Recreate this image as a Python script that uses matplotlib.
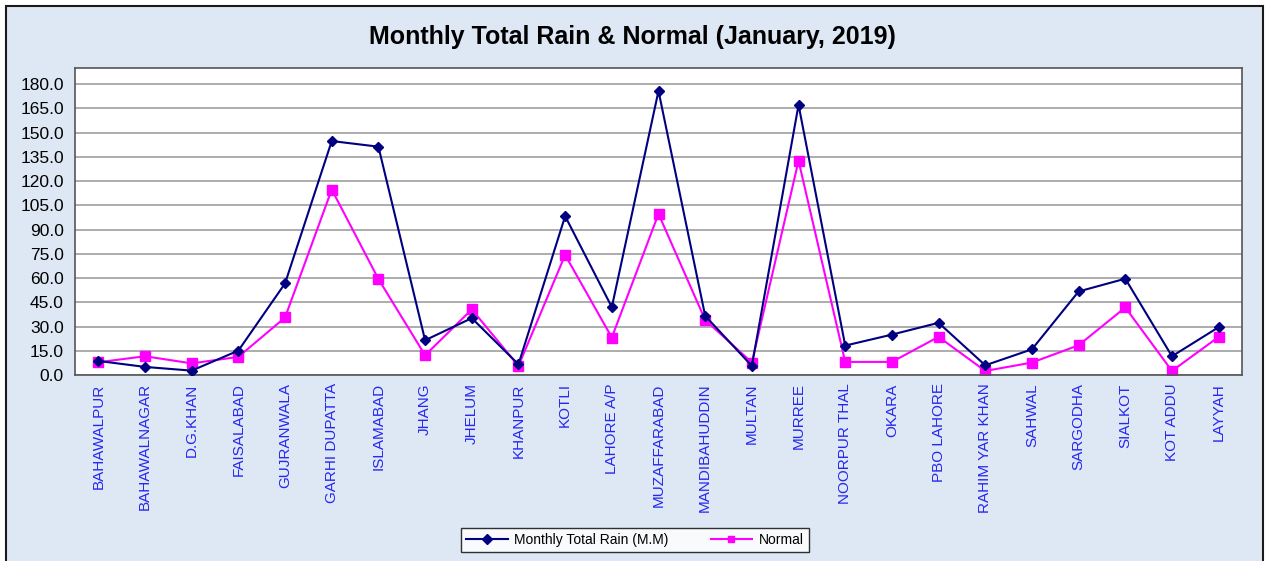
import matplotlib
matplotlib.use("Agg")
import matplotlib.pyplot as plt
from matplotlib.patches import Rectangle

stations = ["BAHAWALPUR", "BAHAWALNAGAR", "D.G.KHAN", "FAISALABAD", "GUJRANWALA",
            "GARHI DUPATTA", "ISLAMABAD", "JHANG", "JHELUM", "KHANPUR", "KOTLI",
            "LAHORE A/P", "MUZAFFARABAD", "MANDIBAHUDDIN", "MULTAN", "MURREE",
            "NOORPUR THAL", "OKARA", "PBO LAHORE", "RAHIM YAR KHAN", "SAHWAL",
            "SARGODHA", "SIALKOT", "KOT ADDU", "LAYYAH"]
rain = [8.7, 5.0, 2.7, 15.1, 56.7, 144.8, 141.3, 21.5, 35.2, 6.6, 98.3,
        42.0, 175.8, 36.6, 5.6, 167.2, 18.2, 25.0, 32.3, 6.0, 15.9,
        51.7, 59.6, 11.6, 29.6]
normal = [7.9, 11.6, 7.2, 11.2, 35.6, 114.8, 59.4, 12.2, 40.6, 5.6, 74.3,
          23.2, 99.7, 34.1, 7.7, 132.6, 8.1, 8.1, 23.6, 2.5, 7.7,
          18.4, 41.8, 2.5, 23.6]
yticks = [0, 15, 30, 45, 60, 75, 90, 105, 120, 135, 150, 165, 180]

plt.rcParams['font.family'] = ['Liberation Sans', 'DejaVu Sans']

W, H = 1265, 561
fig = plt.figure(figsize=(W / 100, H / 100), dpi=100)
fig.patch.set_facecolor("white")
bg = Rectangle((6 / W, -0.05), (1263 - 6) / W, 1.05 - 6 / H, transform=fig.transFigure,
               facecolor="#DDE8F4", edgecolor="#1a1a1a", linewidth=1.5, zorder=-10)
fig.patches.append(bg)

left, right, top, bottom = 75, 1242, 68, 375
ax = fig.add_axes([left / W, 1 - bottom / H, (right - left) / W, (bottom - top) / H])
ax.set_facecolor("white")

x = list(range(len(stations)))
ax.plot(x, rain, color="#000080", marker="D", markersize=5.5, linewidth=1.5,
        label="Monthly Total Rain (M.M)", zorder=3)
ax.plot(x, normal, color="#FF00FF", marker="s", markersize=7, linewidth=1.5,
        label="Normal", zorder=2)

ax.set_xlim(-0.5, len(stations) - 0.5)
ax.set_ylim(0, 190)
ax.set_yticks(yticks)
ax.set_yticklabels([f"{v:.1f}" for v in yticks], fontsize=12.5)
ax.yaxis.grid(True, color="#A6A6A6", linewidth=1.3)
ax.set_axisbelow(True)
ax.tick_params(axis="y", length=0, pad=8)
ax.set_xticks(x)
ax.set_xticklabels(stations, rotation=90, fontsize=11, color="#2626F0")
ax.tick_params(axis="x", length=0, pad=6)
for s in ax.spines.values():
    s.set_color("#555555")
    s.set_linewidth(1.2)

fig.text(0.5, 1 - 37 / H, "Monthly Total Rain & Normal (January, 2019)",
         ha="center", va="center", fontsize=18, fontweight="bold")

leg = fig.legend(loc="center", bbox_to_anchor=(635 / W, 1 - 540 / H), ncol=2,
                 fontsize=10, frameon=True, fancybox=False, edgecolor="black",
                 handlelength=3.0, handletextpad=0.5, columnspacing=3.0, borderpad=0.35)
leg.get_frame().set_linewidth(1.0)
for h in leg.legend_handles:
    h.set_markersize(5)

fig.savefig("out.png", dpi=100, facecolor=fig.get_facecolor())
